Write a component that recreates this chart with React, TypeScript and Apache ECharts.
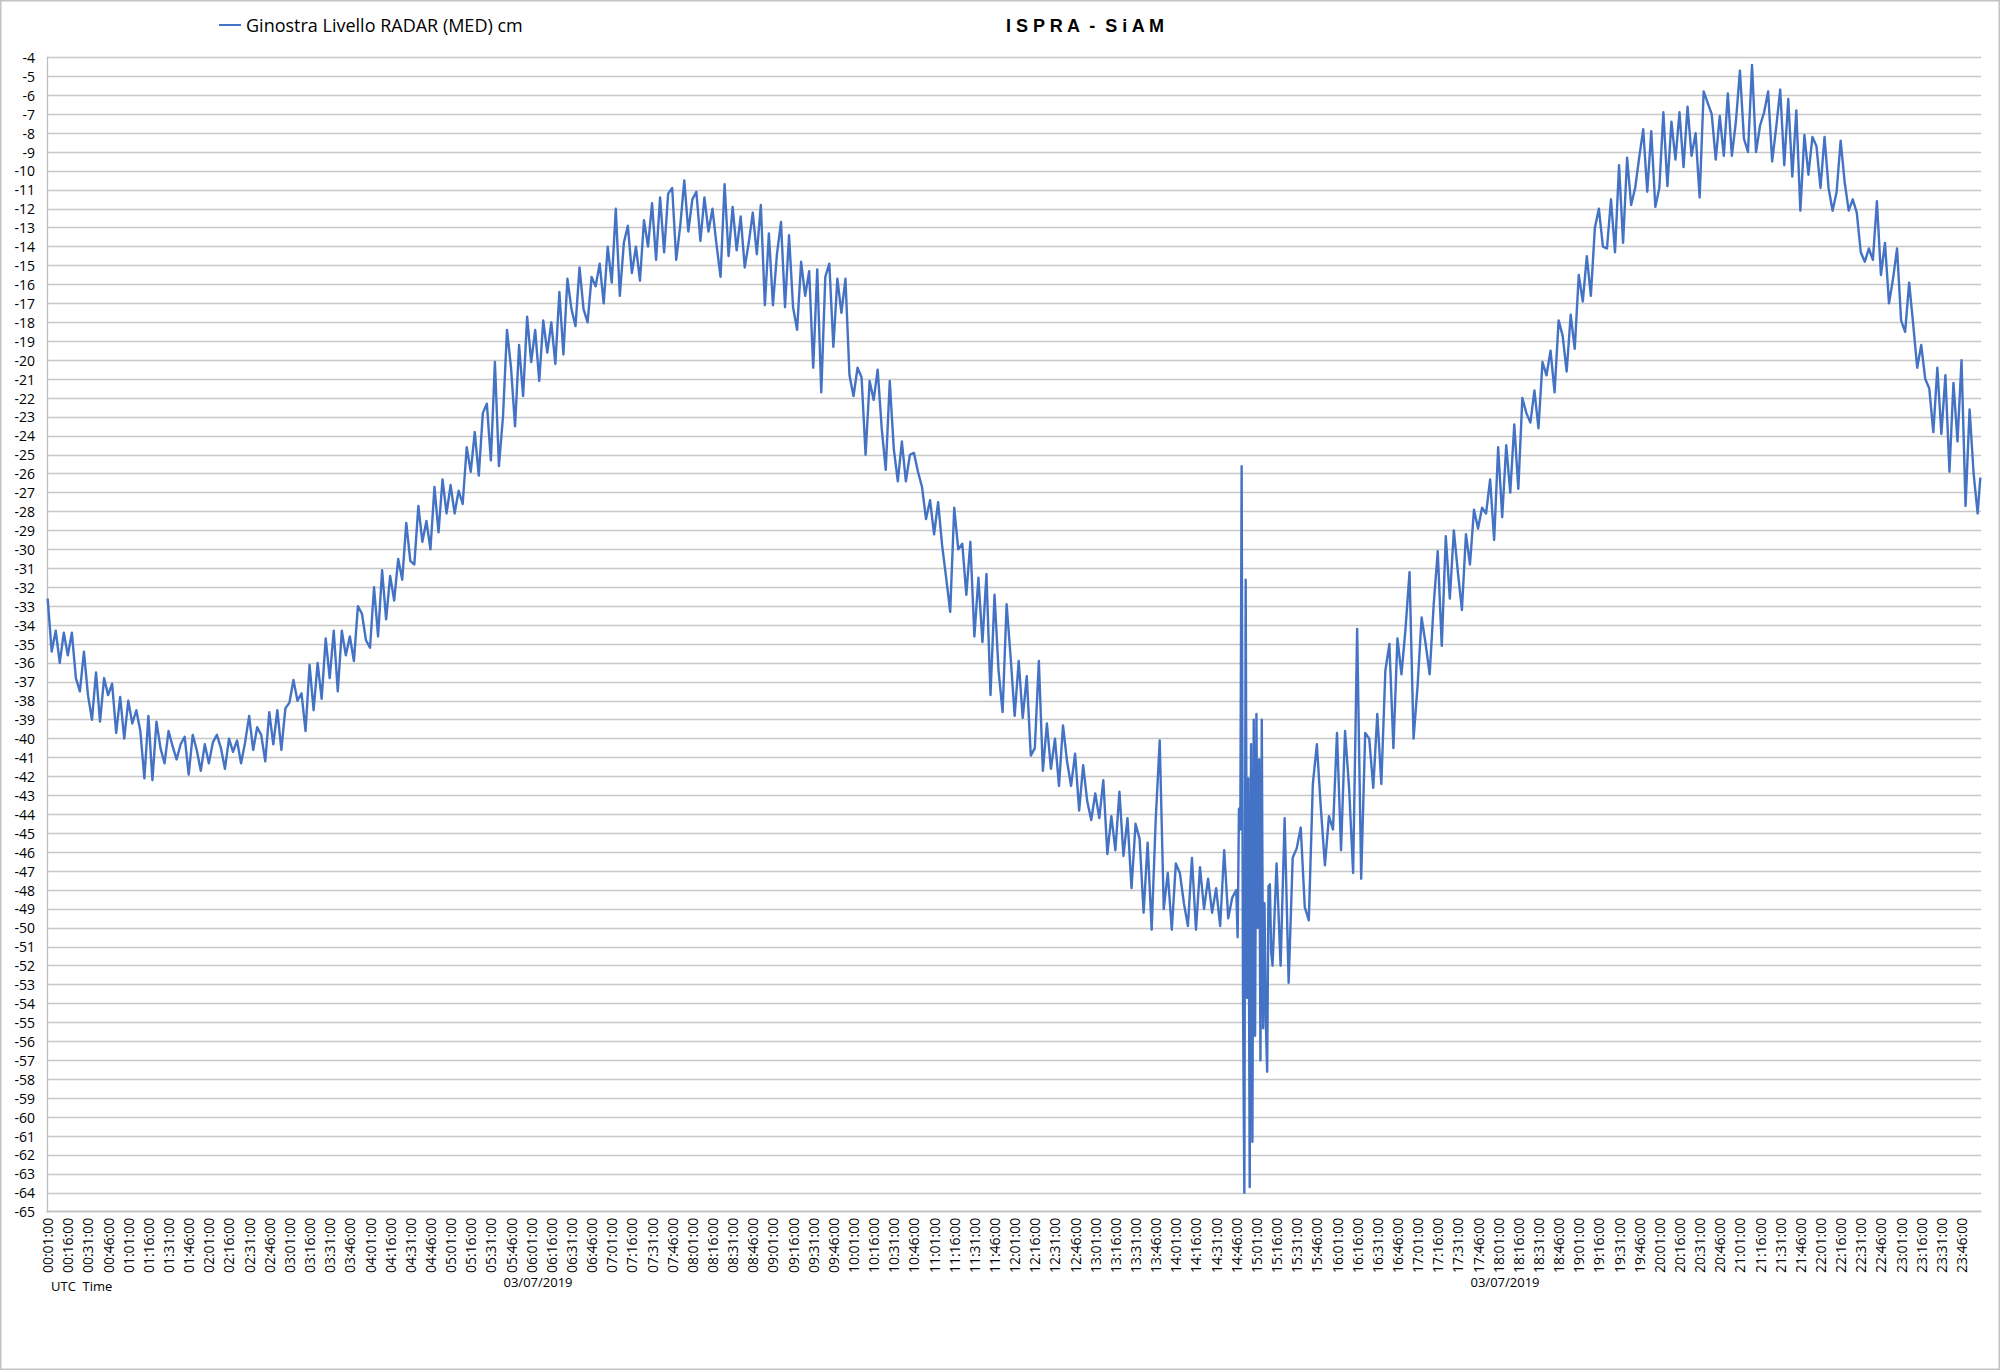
import React, { useEffect, useRef } from "react";
import * as echarts from "echarts";

// Level readings (cm), one value every 3 minutes, starting at hh:01 of each hour.
const levels00 = [-32.6, -35.4, -34.3, -36.0, -34.4, -35.6, -34.4, -36.8, -37.5, -35.4, -37.7, -39.0, -36.5, -39.1, -36.8, -37.7, -37.1, -39.7, -37.8, -40.0];
const levels01 = [-38.0, -39.2, -38.5, -39.6, -42.1, -38.8, -42.2, -39.1, -40.5, -41.3, -39.6, -40.4, -41.1, -40.3, -39.9, -41.9, -39.8, -40.6, -41.7, -40.3];
const levels02 = [-41.3, -40.2, -39.8, -40.5, -41.6, -40.0, -40.7, -40.1, -41.3, -40.2, -38.8, -40.6, -39.4, -39.8, -41.2, -38.6, -40.3, -38.5, -40.6, -38.4];
const levels03 = [-38.1, -36.9, -38.0, -37.6, -39.6, -36.1, -38.5, -36.0, -37.9, -34.7, -36.8, -34.3, -37.5, -34.3, -35.6, -34.6, -35.9, -33.0, -33.4, -34.8];
const levels04 = [-35.2, -32.0, -34.6, -31.1, -33.7, -31.4, -32.7, -30.5, -31.6, -28.6, -30.6, -30.8, -27.7, -29.6, -28.5, -30.0, -26.7, -29.1, -26.3, -28.1];
const levels05 = [-26.6, -28.1, -26.9, -27.6, -24.6, -25.9, -23.8, -26.1, -22.8, -22.3, -25.3, -20.1, -25.6, -23.0, -18.4, -20.4, -23.5, -19.2, -21.9, -17.7];
const levels06 = [-20.1, -18.4, -21.1, -17.9, -19.6, -18.0, -20.2, -16.4, -19.7, -15.7, -17.3, -18.2, -15.1, -17.3, -18.0, -15.6, -16.1, -14.9, -17.0, -14.0];
const levels07 = [-15.9, -12.0, -16.6, -13.8, -12.9, -15.4, -14.0, -15.8, -12.6, -14.0, -11.7, -14.7, -11.4, -14.3, -11.2, -10.9, -14.7, -12.9, -10.5, -13.2];
const levels08 = [-11.5, -11.1, -13.7, -11.4, -13.2, -12.0, -13.9, -15.6, -10.7, -14.5, -11.9, -14.2, -12.4, -15.1, -13.8, -12.2, -14.4, -11.8, -17.1, -13.3];
const levels09 = [-17.1, -14.4, -12.7, -17.2, -13.4, -17.2, -18.4, -14.8, -16.6, -15.3, -20.4, -15.2, -21.7, -15.6, -14.9, -19.3, -15.7, -17.5, -15.7, -20.8];
const levels10 = [-21.9, -20.4, -20.9, -25.0, -21.1, -22.1, -20.5, -23.6, -25.8, -21.1, -24.7, -26.4, -24.3, -26.4, -25.0, -24.9, -25.9, -26.7, -28.4, -27.4];
const levels11 = [-29.2, -27.5, -29.8, -31.5, -33.3, -27.8, -30.0, -29.7, -32.4, -29.6, -34.6, -31.5, -34.9, -31.3, -37.7, -32.4, -36.4, -38.6, -32.9, -35.7];
const levels12 = [-38.8, -35.9, -38.9, -36.7, -40.9, -40.5, -35.9, -41.7, -39.2, -41.6, -40.0, -42.5, -39.3, -41.2, -42.5, -40.8, -43.8, -41.4, -43.3, -44.3];
const levels13 = [-42.9, -44.2, -42.2, -46.1, -44.1, -45.9, -42.8, -46.2, -44.2, -47.9, -44.5, -45.3, -49.2, -45.5, -50.1, -44.3, -40.1, -49.0, -47.1, -50.1];
const levels14 = [-46.6, -47.1, -48.7, -49.9, -46.3, -50.1, -46.8, -49.0, -47.4, -49.2, -47.9, -49.9, -45.9, -49.5, -48.4, null, null, null, null, null];
const levels15 = [null, null, null, null, -52.0, -46.6, -52.0, -44.2, -52.9, -46.3, -45.8, -44.7, -48.9, -49.6, -42.4, -40.3, -43.7, -46.7, -44.1, -44.8];
const levels16 = [-39.7, -45.9, -39.6, -42.6, -47.1, -34.2, -47.4, -39.7, -40.0, -42.6, -38.7, -42.4, -36.4, -35.0, -40.5, -34.7, -36.6, -34.2, -31.2, -40.0];
const levels17 = [-37.2, -33.6, -35.0, -36.6, -32.9, -30.1, -35.1, -29.3, -32.6, -29.0, -31.2, -33.2, -29.2, -30.8, -27.9, -28.9, -27.8, -28.1, -26.3, -29.5];
const levels18 = [-24.6, -28.3, -24.5, -27.0, -23.4, -26.8, -22.0, -22.8, -23.3, -21.6, -23.6, -20.1, -20.8, -19.5, -21.7, -17.9, -18.7, -20.6, -17.6, -19.4];
const levels19 = [-15.5, -16.9, -14.5, -16.6, -13.0, -12.0, -14.0, -14.1, -11.5, -14.3, -9.7, -13.8, -9.3, -11.8, -10.9, -9.3, -7.8, -11.1, -7.9, -11.9];
const levels20 = [-10.9, -6.9, -10.8, -7.4, -9.4, -6.9, -9.8, -6.6, -9.2, -8.0, -11.4, -5.8, -6.4, -7.0, -9.4, -7.1, -9.2, -5.9, -9.2, -7.4];
const levels21 = [-4.7, -8.3, -9.0, -4.4, -9.0, -7.6, -6.9, -5.8, -9.5, -7.7, -5.7, -9.7, -6.2, -10.3, -6.8, -12.1, -8.1, -10.2, -8.2, -8.7];
const levels22 = [-10.9, -8.2, -10.9, -12.1, -11.1, -8.4, -10.6, -12.1, -11.5, -12.2, -14.3, -14.8, -14.1, -14.7, -11.6, -15.5, -13.8, -17.0, -15.7, -14.1];
const levels23 = [-17.9, -18.5, -15.9, -18.1, -20.4, -19.2, -21.0, -21.5, -23.8, -20.4, -23.9, -20.8, -25.9, -21.2, -24.3, -20.0, -27.7, -22.6, -26.0, -28.1];

// Minute-by-minute readings during the disturbance, 14:46 to 15:12
const burstStartMinute = 886;
const burstLevels = [-48.0, -50.5, -43.7, -44.8, -25.6, -53.7, -64.0, -31.6, -53.7, -42.1, -63.7, -40.3, -61.3, -39.0, -55.7, -38.7, -50.0, -41.1, -57.0, -39.0, -55.3, -48.7, -55.0, -57.6, -47.8, -47.7, -51.3];

const finalMinute = 1440;
const finalLevel = -26.2;

const hourlyLevels = [levels00, levels01, levels02, levels03, levels04, levels05, levels06, levels07, levels08, levels09, levels10, levels11, levels12, levels13, levels14, levels15, levels16, levels17, levels18, levels19, levels20, levels21, levels22, levels23];

const yMin = -65;
const yMax = -4;
const seriesName = "Ginostra Livello RADAR (MED) cm";
const chartTitle = "I S P R A \u00A0-\u00A0 S i A M";
const dateLabel = "03/07/2019";
const timeAxisLabel = "UTC  Time";

function pad(n: number) {
  return n < 10 ? "0" + n : String(n);
}

const timeCategories: string[] = [];
for (let m = 1; m <= 1440; m++) {
  timeCategories.push(`${pad(Math.floor(m / 60))}:${pad(m % 60)}:00`);
}

function buildPoints(): [number, number][] {
  const pts: [number, number][] = [];
  hourlyLevels.forEach((arr, h) => {
    arr.forEach((v, k) => {
      if (v !== null) pts.push([h * 60 + 1 + 3 * k - 1, v as number]);
    });
  });
  burstLevels.forEach((v, i) => pts.push([burstStartMinute + i - 1, v]));
  pts.push([finalMinute - 1, finalLevel]);
  pts.sort((a, b) => a[0] - b[0]);
  return pts;
}

const FONT = "'Open Sans', sans-serif";
const LINE_COLOR = "#4472C4";

export default function App() {
  const ref = useRef<HTMLDivElement>(null);

  useEffect(() => {
    if (!ref.current) return;
    const chart = echarts.init(ref.current, undefined, { renderer: "svg" });
    const option: any = {
      animation: false,
      backgroundColor: "#ffffff",
      legend: {
        left: 219,
        top: 16,
        padding: 0,
        icon: "rect",
        itemWidth: 22,
        itemHeight: 2,
        textStyle: { fontFamily: FONT, fontSize: 18, color: "#000" },
        data: [seriesName],
      },
      grid: { left: 47, right: 19, top: 57.4, bottom: 158.3, containLabel: false },
      xAxis: {
        type: "category",
        data: timeCategories,
        boundaryGap: true,
        axisLine: { show: true, lineStyle: { color: "#bfbfbf", width: 1.3 } },
        axisTick: { show: false },
        splitLine: { show: false },
        axisLabel: {
          interval: 14,
          rotate: 90,
          margin: 6,
          fontSize: 14,
          fontFamily: FONT,
          color: "#000",
        },
      },
      yAxis: {
        type: "value",
        min: yMin,
        max: yMax,
        interval: 1,
        axisLine: { show: true, lineStyle: { color: "#bfbfbf", width: 1.3 } },
        axisTick: { show: false },
        splitLine: { show: true, lineStyle: { color: "#c8c8c8", width: 1.3 } },
        axisLabel: { margin: 12, fontSize: 14, fontFamily: FONT, color: "#000" },
      },
      series: [
        {
          name: seriesName,
          type: "line",
          data: buildPoints(),
          showSymbol: false,
          symbol: "none",
          lineStyle: { color: LINE_COLOR, width: 2.4, join: "round" },
          itemStyle: { color: LINE_COLOR },
        },
      ],
      graphic: [
        {
          type: "rect",
          shape: { x: 0.75, y: 0.75, width: 1998.5, height: 1368.5 },
          style: { fill: "none", stroke: "#c3c3c3", lineWidth: 1.5 },
          silent: true,
        },
        {
          type: "text",
          x: 1085,
          y: 26,
          style: {
            text: chartTitle,
            fontSize: 18,
            fontWeight: "bold",
            fontFamily: "'Liberation Sans', sans-serif",
            fill: "#000",
            align: "center",
            verticalAlign: "middle",
          },
        },
        {
          type: "text",
          x: 538,
          y: 1282,
          style: { text: dateLabel, fontSize: 13, fontFamily: FONT, fill: "#000", align: "center", verticalAlign: "middle" },
        },
        {
          type: "text",
          x: 1505,
          y: 1282,
          style: { text: dateLabel, fontSize: 13, fontFamily: FONT, fill: "#000", align: "center", verticalAlign: "middle" },
        },
        {
          type: "text",
          x: 51,
          y: 1286,
          style: { text: timeAxisLabel, fontSize: 13, fontFamily: FONT, fill: "#000", align: "left", verticalAlign: "middle" },
        },
      ],
    };
    chart.setOption(option);
    return () => chart.dispose();
  }, []);

  return <div ref={ref} style={{ position: "absolute", left: 0, top: 0, width: 2000, height: 1370 }} />;
}
